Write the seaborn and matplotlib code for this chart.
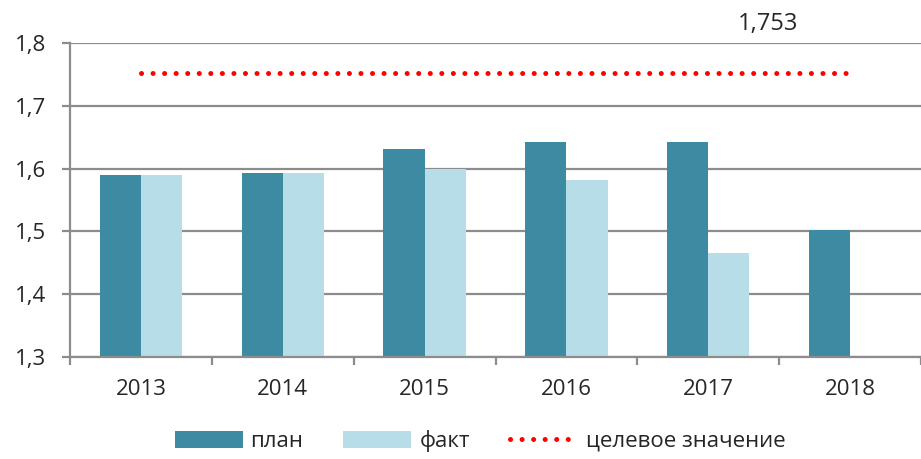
import matplotlib
matplotlib.use("Agg")
import matplotlib.pyplot as plt
import seaborn as sns
import pandas as pd
import numpy as np
from matplotlib.patches import Patch
from matplotlib.lines import Line2D
from matplotlib.ticker import FuncFormatter

years = ["2013", "2014", "2015", "2016", "2017", "2018"]
plan = [1.590, 1.593, 1.631, 1.642, 1.642, 1.502]
fact = [1.590, 1.593, 1.599, 1.582, 1.466, np.nan]
target = 1.753
target_label = "1,753"
series_names = ["план", "факт", "целевое значение"]

c_plan = "#3C8BA2"
c_fact = "#B7DDE8"
grid_c = "#8C8C8C"

df = pd.DataFrame({
    "year": years * 2,
    "value": plan + fact,
    "series": [series_names[0]] * len(years) + [series_names[1]] * len(years),
})

sns.set_style("white")
plt.rcParams["font.family"] = ["Open Sans", "DejaVu Sans"]

fig = plt.figure(figsize=(9.21, 4.59), dpi=100)
ax = fig.add_axes([70 / 921, 1 - 357 / 459, 1 - 70 / 921, (357 - 43) / 459])

sns.barplot(data=df, x="year", y="value", hue="series", order=years,
            hue_order=series_names[:2], palette=[c_plan, c_fact],
            width=0.58, gap=0, ax=ax, legend=False, saturation=1, linewidth=0)

dot_style = (0, (0.01, 2.3))
ax.plot([0, len(years) - 1], [target, target], linestyle=dot_style,
        color="red", linewidth=3.6, dash_capstyle="round", zorder=5)

ax.annotate(target_label, xy=(len(years) - 1, target), xytext=(-59, 35),
            textcoords="offset points", ha="center", va="center", fontsize=17)

ax.set_ylim(1.3, 1.8)
ax.set_xlim(-0.5, len(years) - 0.5)
ax.set_yticks([1.3, 1.4, 1.5, 1.6, 1.7, 1.8])
ax.yaxis.set_major_formatter(FuncFormatter(lambda v, p: f"{v:.1f}".replace(".", ",")))
ax.set_xlabel("")
ax.set_ylabel("")

ax.set_axisbelow(True)
ax.yaxis.grid(True, color=grid_c, linewidth=1.6)
ax.xaxis.grid(False)
for s in ["top", "right"]:
    ax.spines[s].set_visible(False)
for s in ["left", "bottom"]:
    ax.spines[s].set_color(grid_c)
    ax.spines[s].set_linewidth(1.6)

ax.tick_params(axis="y", which="major", length=6, width=1.6, color=grid_c,
               direction="out", labelsize=16, pad=11, left=True)
ax.tick_params(axis="x", which="major", length=0, labelsize=16, pad=16)
ax.set_xticks(np.arange(-0.5, len(years) - 0.5 + 1), minor=True)
ax.tick_params(axis="x", which="minor", length=6, width=1.6, color=grid_c,
               direction="out", bottom=True)

handles = [
    Patch(facecolor=c_plan, edgecolor="none"),
    Patch(facecolor=c_fact, edgecolor="none"),
    Line2D([0], [0], color="red", linestyle=dot_style, linewidth=3.6,
           dash_capstyle="round"),
]
fig.legend(handles, series_names, loc="center", bbox_to_anchor=(480 / 921, 1 - 441 / 459),
           ncol=3, frameon=False, fontsize=16, handlelength=3.06, handleheight=0.8,
           handletextpad=0.36, columnspacing=1.8)

fig.savefig("out.png", dpi=100)
